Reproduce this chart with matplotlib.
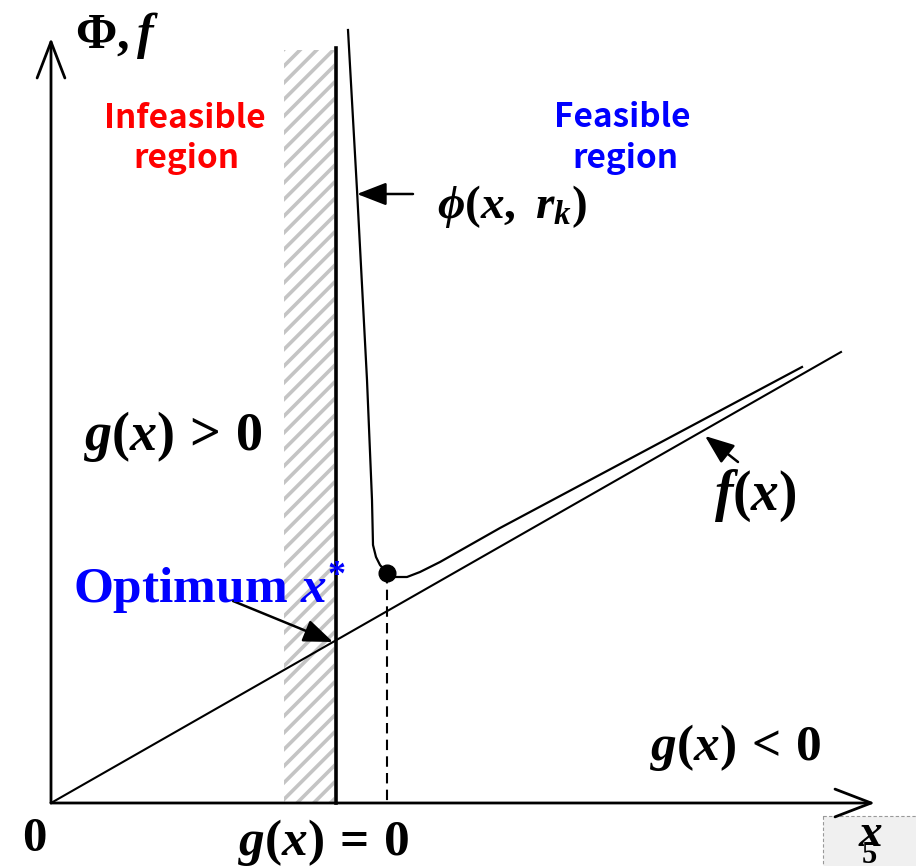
import matplotlib
matplotlib.use("Agg")
import matplotlib.pyplot as plt
from matplotlib.patches import Rectangle, FancyArrowPatch

plt.rcParams['mathtext.fontset'] = 'custom'
plt.rcParams['mathtext.rm'] = 'Liberation Serif:bold'
plt.rcParams['mathtext.it'] = 'Liberation Serif:italic:bold'
plt.rcParams['mathtext.bf'] = 'Liberation Serif:bold'
plt.rcParams['hatch.linewidth'] = 2.6

# picture coordinates (pixels, y down)
origin = (51, 803)
x_axis_end = 875
y_axis_end = 38
constraint_x = 336
constraint_top = 48
band_left = 284
band_top = 50

# objective f(x) (straight line)
f_x = [51, 841]
f_y = [803, 352]

# penalty function phi(x, r_k)
phi_x = [348, 357, 367, 372, 373, 376, 380, 387, 395, 407, 420, 440, 500, 802]
phi_y = [30, 190, 380, 500, 545, 557, 565, 573, 577, 577, 572, 562, 528, 367]

# minimum of phi
phi_min = (387, 573)

SERIF = 'Liberation Serif'
SANS = 'Noto Sans CJK KR'


def arrow(ax, tail, head, lw=1.8):
    ax.add_patch(FancyArrowPatch(tail, head, arrowstyle='-|>,head_length=0.9,head_width=0.35',
                                 mutation_scale=20, color='black', lw=lw,
                                 shrinkA=0, shrinkB=0))


fig = plt.figure(figsize=(9.16, 8.66), dpi=100)
ax = fig.add_axes([0, 0, 1, 1])
ax.set_xlim(0, 916)
ax.set_ylim(866, 0)
ax.axis('off')

# hatched infeasible band
ax.add_patch(Rectangle((band_left, band_top), constraint_x - 2 - band_left, origin[1] - band_top,
                       facecolor='white', edgecolor='#c4c4c4', lw=0, hatch='//'))

# axes arrows
for end in [(origin[0], y_axis_end), (x_axis_end, origin[1])]:
    ax.annotate('', xy=end, xytext=origin,
                arrowprops=dict(arrowstyle='->,head_length=1.3,head_width=0.5', lw=2.0,
                                color='black', shrinkA=0, shrinkB=0, mutation_scale=20))

# constraint boundary g(x) = 0
ax.plot([constraint_x, constraint_x], [constraint_top, origin[1]], color='black', lw=2.6)

# f(x) and phi(x, r_k)
ax.plot(f_x, f_y, color='black', lw=1.5)
ax.plot(phi_x, phi_y, color='black', lw=1.6, solid_joinstyle='round')
ax.plot(*phi_min, 'o', color='black', ms=12)
ax.plot([phi_min[0], phi_min[0]], [phi_min[1], origin[1]], color='black', lw=1.5,
        linestyle=(0, (5, 3)))

# pointer arrows
arrow(ax, (413, 194), (357, 194))
arrow(ax, (738, 462), (705, 436))
arrow(ax, (233, 601), (333, 642))

# texts
ax.text(75, 48, r'$\Phi, f$', fontsize=36, ha='left', va='baseline')
ax.text(185, 128, 'Infeasible', color='#ff0000', fontsize=24, fontweight='bold',
        family=SANS, ha='center', va='baseline')
ax.text(186, 168, 'region', color='#ff0000', fontsize=24, fontweight='bold',
        family=SANS, ha='center', va='baseline')
ax.text(622, 127, 'Feasible', color='#0000ff', fontsize=24, fontweight='bold',
        family=SANS, ha='center', va='baseline')
ax.text(625, 168, 'region', color='#0000ff', fontsize=24, fontweight='bold',
        family=SANS, ha='center', va='baseline')
ax.text(437, 218, r'$\phi(x,\ r_k)$', fontsize=34, ha='left', va='baseline')
ax.text(714, 510, r'$f(x)$', fontsize=40, ha='left', va='baseline')
ax.text(83, 450, r'$g(x)\,>\,0$', fontsize=39, ha='left', va='baseline')
ax.text(650, 760, r'$g(x)\,<\,0$', fontsize=37, ha='left', va='baseline')
ax.text(73, 602, r'$\mathrm{Optimum}\ x^{*}$', color='#0000ff', fontsize=37,
        ha='left', va='baseline')
ax.text(34, 851, r'$0$', fontsize=35, ha='center', va='baseline')
ax.text(238, 855, r'$g(x)\,=\,0$', fontsize=37, ha='left', va='baseline')

# page number box in the corner
ax.add_patch(Rectangle((823, 816), 100, 60, facecolor='#f0f0f0', edgecolor='#999999',
                       lw=0.8, linestyle=(0, (3, 2))))
ax.text(869, 863, '5', fontsize=22, fontweight='bold', family=SERIF, ha='center', va='baseline')
ax.text(871, 846, r'$x$', fontsize=34, ha='center', va='baseline')

fig.savefig('out.png', dpi=100)
